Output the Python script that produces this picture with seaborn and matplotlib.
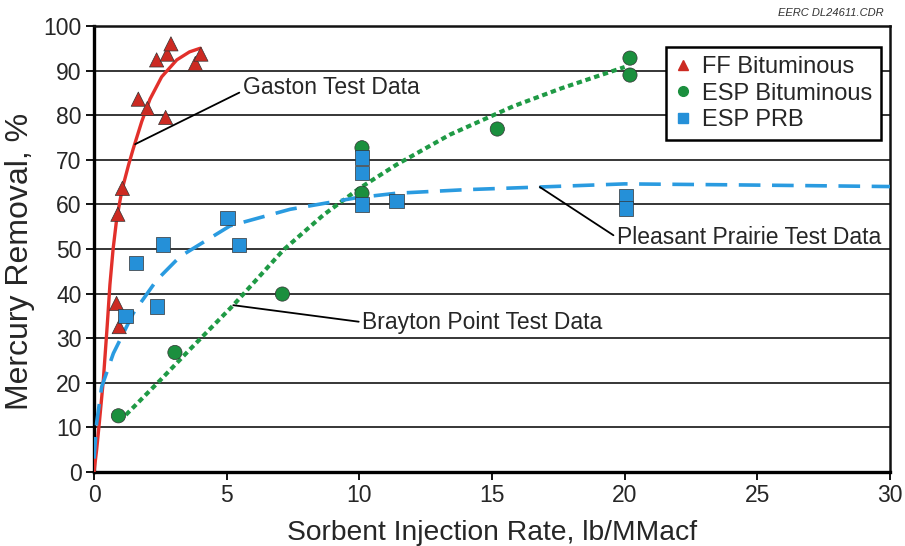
import matplotlib
matplotlib.use("Agg")
import matplotlib.pyplot as plt
import seaborn as sns
import pandas as pd
from matplotlib.lines import Line2D

# ---- data ----
ff_x = [0.85, 0.95, 0.9, 1.07, 1.67, 2.01, 2.70, 2.36, 2.76, 2.90, 3.82, 4.03]
ff_y = [37.8, 32.6, 57.8, 63.6, 83.6, 81.5, 79.5, 92.4, 93.7, 96.0, 91.6, 93.7]

espb_x = [0.92, 3.05, 7.1, 10.1, 10.1, 15.2, 20.2, 20.2]
espb_y = [12.6, 26.8, 39.9, 72.7, 62.5, 76.9, 92.8, 89.0]

prb_x = [1.19, 1.58, 2.36, 2.59, 5.03, 5.47, 10.1, 10.1, 10.1, 11.4, 20.05, 20.05]
prb_y = [35.0, 46.8, 37.1, 51.0, 56.9, 50.9, 70.5, 67.1, 60.0, 60.8, 61.8, 59.1]

# trend curves
gaston_x = [0, 0.1, 0.2, 0.35, 0.5, 0.6, 0.72, 0.85, 1.0, 1.11, 1.3, 1.48, 1.8, 2.11, 2.55, 3.12, 3.6, 4.0]
gaston_y = [0, 5, 11, 20.5, 33, 42, 50, 56.5, 61.5, 64.5, 68.8, 72.5, 78.6, 83.6, 88.6, 92.4, 94.2, 95.0]

brayton_x = [1.2, 2.5, 3.6, 5.25, 7.14, 8.64, 10.0, 11.4, 13.4, 15.8, 17.6, 20.0]
brayton_y = [12.8, 20.6, 27.4, 37.4, 49.8, 57.6, 63.6, 68.9, 75.6, 82.0, 86.0, 90.8]

pp_x = [0, 0.1, 0.29, 0.73, 1.48, 2.36, 3.24, 5.13, 7.39, 9.9, 11.4, 14.0, 16.8, 20.0, 23.8, 27.0, 30.0]
pp_y = [3.0, 11.0, 19.1, 26.6, 35.6, 43.0, 48.3, 55.2, 58.9, 61.5, 62.5, 63.3, 63.9, 64.6, 64.4, 64.2, 64.0]

x_ticks = [0, 5, 10, 15, 20, 25, 30]
y_ticks = [0, 10, 20, 30, 40, 50, 60, 70, 80, 90, 100]

series_names = ["FF Bituminous", "ESP Bituminous", "ESP PRB"]

# ---- style ----
sns.set_style("white")
plt.rcParams['font.family'] = ['Liberation Sans', 'DejaVu Sans']

RED_LINE = "#e2302b"
RED_MARK = "#cc2a22"
GREEN_LINE = "#1f9a45"
GREEN_MARK = "#1b8f3e"
BLUE_LINE = "#2a9be0"
BLUE_MARK = "#2590d8"
TXT = "#262626"

fig = plt.figure(figsize=(9.05, 5.46), dpi=100)
ax = fig.add_axes([94/905, 1-472/546, 796/905, 446/546])

for y in y_ticks[1:-1]:
    ax.axhline(y, color="black", lw=1.1, zorder=0.5)

cur = pd.DataFrame({"x": gaston_x, "y": gaston_y})
sns.lineplot(data=cur, x="x", y="y", ax=ax, color=RED_LINE, lw=2.4, sort=False, zorder=3)
cur = pd.DataFrame({"x": brayton_x, "y": brayton_y})
sns.lineplot(data=cur, x="x", y="y", ax=ax, color=GREEN_LINE, lw=3.0, sort=False,
             zorder=3, linestyle=(0, (1.3, 0.9)))
cur = pd.DataFrame({"x": pp_x, "y": pp_y})
sns.lineplot(data=cur, x="x", y="y", ax=ax, color=BLUE_LINE, lw=2.6, sort=False,
             zorder=3, linestyle=(0, (6, 3.2)))

pts = pd.concat([
    pd.DataFrame({"x": ff_x, "y": ff_y, "s": series_names[0]}),
    pd.DataFrame({"x": espb_x, "y": espb_y, "s": series_names[1]}),
    pd.DataFrame({"x": prb_x, "y": prb_y, "s": series_names[2]}),
])
sns.scatterplot(data=pts, x="x", y="y", hue="s", style="s",
                palette={series_names[0]: RED_MARK, series_names[1]: GREEN_MARK, series_names[2]: BLUE_MARK},
                markers={series_names[0]: "^", series_names[1]: "o", series_names[2]: "s"},
                s=105, edgecolor="#333333", linewidth=0.5, ax=ax, zorder=4, legend=False)

ax.set_xlim(0, 30)
ax.set_ylim(0, 100)
ax.set_xticks(x_ticks)
ax.set_yticks(y_ticks)
ax.tick_params(axis="both", direction="out", length=6, width=1.3, color="black",
               labelsize=16.5, labelcolor=TXT, pad=3, left=True, bottom=True)
ax.set_xlabel("Sorbent Injection Rate, lb/MMacf", fontsize=20.3, color=TXT, labelpad=9)
ax.set_ylabel("Mercury Removal, %", fontsize=23, color=TXT)
ax.yaxis.set_label_coords(-0.0745, 0.473)
for side in ["left", "bottom"]:
    ax.spines[side].set_linewidth(2.4)
    ax.spines[side].set_color("black")
for side in ["top", "right"]:
    ax.spines[side].set_linewidth(1.8)
    ax.spines[side].set_color("#111111")

# annotations
ax.annotate("Gaston Test Data", xy=(1.55, 73.5), xytext=(5.6, 86.2),
            fontsize=16.5, color=TXT, va="center", ha="left",
            arrowprops=dict(arrowstyle="-", color="black", lw=1.3, shrinkA=0, shrinkB=0,
                            relpos=(0, 0.35)))
ax.annotate("Brayton Point Test Data", xy=(5.25, 37.4), xytext=(10.1, 33.6),
            fontsize=16.5, color=TXT, va="center", ha="left",
            arrowprops=dict(arrowstyle="-", color="black", lw=1.3, shrinkA=0, shrinkB=0,
                            relpos=(0, 0.5)))
ax.annotate("Pleasant Prairie Test Data", xy=(16.8, 63.9), xytext=(19.7, 52.6),
            fontsize=16.5, color=TXT, va="center", ha="left",
            arrowprops=dict(arrowstyle="-", color="black", lw=1.3, shrinkA=0, shrinkB=0,
                            relpos=(0, 0.5)))

handles = [
    Line2D([], [], ls="none", marker="^", color=RED_MARK, markersize=7.5, label=series_names[0]),
    Line2D([], [], ls="none", marker="o", color=GREEN_MARK, markersize=7, label=series_names[1]),
    Line2D([], [], ls="none", marker="s", color=BLUE_MARK, markersize=6.5, label=series_names[2]),
]
leg = ax.legend(handles=handles, loc="upper right", bbox_to_anchor=(0.989, 0.953),
                fontsize=17, frameon=True, fancybox=False, edgecolor="black",
                handlelength=0.6, handletextpad=0.5, labelspacing=0.18, borderpad=0.4,
                borderaxespad=0)
leg.get_frame().set_linewidth(1.8)
leg.get_frame().set_alpha(1)
leg.set_zorder(6)
for t in leg.get_texts():
    t.set_color(TXT)

fig.text(884/905, 1-13/546, "EERC DL24611.CDR", fontsize=8, style="italic",
         ha="right", va="center", color="#333333")

fig.savefig("out.png", dpi=100)
